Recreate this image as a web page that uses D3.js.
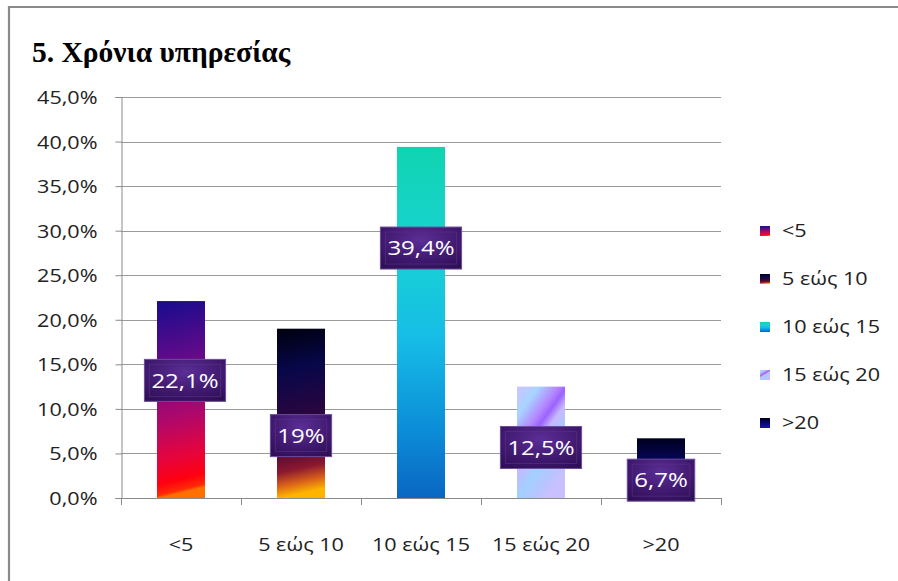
<!DOCTYPE html>
<html>
<head>
<meta charset="utf-8">
<script src="https://cdn.jsdelivr.net/npm/d3@7"></script>
<style>
  html, body { margin: 0; padding: 0; background: #fff; }
  svg { display: block; }
</style>
</head>
<body>
<svg id="chart" width="898" height="581"></svg>
<script>
// ---- data ----
const categories = ["<5", "5 εώς 10", "10 εώς 15", "15 εώς 20", ">20"];
const values = [0.221, 0.19, 0.394, 0.125, 0.067];
const labelAt = [0.132, 0.070, 0.2805, 0.0567, 0.020];
const yTicks = [0, 0.05, 0.10, 0.15, 0.20, 0.25, 0.30, 0.35, 0.40, 0.45];
const title = "5. Χρόνια υπηρεσίας";

// ---- styles ----
const gradients = [
  { x1: 0, y1: 0, x2: 0.06, y2: 1, stops: [[0, "#170c8e"], [0.35, "#6a0a88"], [0.62, "#b0086a"], [0.82, "#e8043a"], [0.93, "#ff0010"], [0.985, "#ff2a08"], [1, "#ff7000"]] },
  { x1: 0, y1: 0, x2: 0.06, y2: 1, stops: [[0, "#00000e"], [0.25, "#07074a"], [0.5, "#250640"], [0.72, "#4a0838"], [0.85, "#8a1830"], [0.93, "#d8601a"], [1, "#ffb400"]] },
  { x1: 0, y1: 0, x2: 0, y2: 1, stops: [[0, "#10d4b0"], [0.3, "#18d2d4"], [0.55, "#16bce6"], [0.8, "#0c8ed8"], [1, "#0a66c2"]] },
  { x1: 0, y1: 0, x2: 0.6, y2: 1, stops: [[0, "#cfc4ff"], [0.2, "#a8d4ff"], [0.38, "#b486ff"], [0.46, "#9c62ff"], [0.56, "#c6b8ff"], [0.74, "#a2d0ff"], [0.9, "#b8c4ff"], [1, "#c8c0ff"]] },
  { x1: 0, y1: 0, x2: 0, y2: 1, stops: [[0, "#00001e"], [0.45, "#070766"], [1, "#1814b4"]] }
];
const SX = 1.2;
const font = "'Open Sans', sans-serif";

const svg = d3.select("#chart");
const defs = svg.append("defs");
gradients.forEach((g, i) => {
  const lg = defs.append("linearGradient").attr("id", "g" + i)
    .attr("x1", g.x1).attr("y1", g.y1).attr("x2", g.x2).attr("y2", g.y2);
  g.stops.forEach(s => lg.append("stop").attr("offset", s[0]).attr("stop-color", s[1]));
});
const lbg = defs.append("radialGradient").attr("id", "lbl").attr("cx", 0.5).attr("cy", 0.3).attr("r", 0.8);
lbg.append("stop").attr("offset", 0).attr("stop-color", "#5b2e96");
lbg.append("stop").attr("offset", 0.6).attr("stop-color", "#40196f");
lbg.append("stop").attr("offset", 1).attr("stop-color", "#2e0f55");

// chart frame (left and top border)
svg.append("path").attr("d", "M9,581V7H898").attr("fill", "none")
  .attr("stroke", "#8a8a8a").attr("stroke-width", 2.2);

// title
svg.append("text").attr("x", 32).attr("y", 62)
  .attr("font-family", "'Liberation Serif', 'Times New Roman', serif")
  .attr("font-weight", "bold").attr("font-size", 29.5).attr("fill", "#000")
  .text(title);

// scales
const plotL = 121, plotR = 721, plotT = 97, plotB = 498;
const x = d3.scaleBand().domain(categories).range([plotL, plotR]).paddingInner(0.6).paddingOuter(0.3);
const y = d3.scaleLinear().domain([0, 0.45]).range([plotB, plotT]);
const fmt = v => d3.format(".1f")(v * 100).replace(".", ",") + "%";
const fmtLbl = v => { const s = (Math.round(v * 1000) / 10).toString(); return s.replace(".", ",") + "%"; };

// gridlines
svg.append("g").selectAll("line").data(yTicks.filter(t => t > 0)).join("line")
  .attr("x1", plotL).attr("x2", plotR)
  .attr("y1", d => Math.round(y(d)) + 0.5).attr("y2", d => Math.round(y(d)) + 0.5)
  .attr("stroke", "#9a9a9a").attr("stroke-width", 1.2);

// y axis
const yAxis = svg.append("g").attr("transform", `translate(${plotL + 0.5},0)`)
  .call(d3.axisLeft(y).tickValues(yTicks).tickSize(6).tickFormat(fmt));
yAxis.select(".domain").attr("stroke", "#8a8a8a");
yAxis.selectAll(".tick line").attr("stroke", "#8a8a8a");
yAxis.selectAll(".tick text")
  .attr("x", -20).attr("dy", "0.36em")
  .attr("transform", `scale(${SX},1)`)
  .attr("font-family", font).attr("font-size", 18).attr("fill", "#222");

// x axis
const step = x.step();
const bounds = [plotL].concat(categories.map((c, i) => plotL + step * (i + 1)));
const xAxis = svg.append("g");
xAxis.append("line").attr("x1", plotL).attr("x2", plotR)
  .attr("y1", plotB + 0.5).attr("y2", plotB + 0.5).attr("stroke", "#8a8a8a");
xAxis.selectAll("line.tk").data(bounds).join("line").attr("class", "tk")
  .attr("x1", d => Math.round(d) + 0.5).attr("x2", d => Math.round(d) + 0.5)
  .attr("y1", plotB).attr("y2", plotB + 7).attr("stroke", "#8a8a8a");
xAxis.selectAll("text").data(categories).join("text")
  .attr("transform", d => `translate(${x(d) + x.bandwidth() / 2},551) scale(${SX},1)`)
  .attr("text-anchor", "middle").attr("font-family", font).attr("font-size", 18).attr("fill", "#222")
  .text(d => d);

// bars
svg.append("g").selectAll("rect").data(values).join("rect")
  .attr("x", (d, i) => x(categories[i])).attr("width", x.bandwidth())
  .attr("y", d => y(d)).attr("height", d => y(0) - y(d))
  .attr("fill", (d, i) => `url(#g${i})`);

// labels
const lg = svg.append("g").selectAll("g").data(values).join("g")
  .attr("transform", (d, i) => `translate(${x(categories[i]) + x.bandwidth() / 2 + (i === 0 ? 4 : 0)},${y(labelAt[i])})`);
lg.each(function (d) {
  const g = d3.select(this);
  const t = g.append("text").attr("text-anchor", "middle").attr("dy", "0.36em")
    .attr("transform", `scale(${SX},1)`)
    .attr("font-family", font).attr("font-size", 20).attr("fill", "#fff").text(fmtLbl(d));
  const w = t.node().getComputedTextLength() * SX + 14, h = 42;
  g.insert("rect", "text").attr("x", -w / 2).attr("y", -h / 2).attr("width", w).attr("height", h)
    .attr("fill", "url(#lbl)").attr("stroke", "#6d4d9c").attr("stroke-width", 1);
  g.insert("rect", "text").attr("x", -w / 2 + 5).attr("y", -h / 2 + 5).attr("width", w - 10).attr("height", h - 10)
    .attr("fill", "none").attr("stroke", "#5a3488").attr("stroke-opacity", 0.6).attr("stroke-width", 1);
});

// legend
const leg = svg.append("g").selectAll("g").data(categories).join("g")
  .attr("transform", (d, i) => `translate(760,${231 + i * 48})`);
leg.append("rect").attr("x", 0).attr("y", -5).attr("width", 10).attr("height", 10)
  .attr("fill", (d, i) => `url(#g${i})`);
leg.append("text").attr("transform", `translate(22,0) scale(${SX},1)`).attr("dy", "0.36em")
  .attr("font-family", font).attr("font-size", 18).attr("fill", "#222").text(d => d);
</script>
</body>
</html>
